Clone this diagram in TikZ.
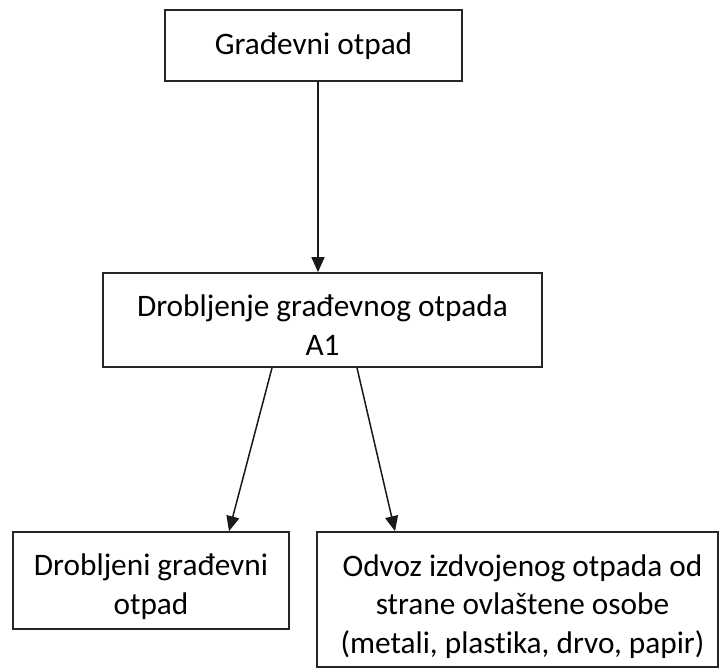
\documentclass[tikz,border=0pt]{standalone}
\usepackage{fontspec}
\setmainfont{Carlito}[Ligatures=NoCommon]
\usetikzlibrary{arrows.meta}
\begin{document}
\begin{tikzpicture}[x=1pt,y=-1pt,
  boxst/.style={draw=black!85, line width=1.7pt, inner sep=0pt, fill=white},
  textst/.style={align=center, inner sep=0pt, font=\fontsize{31.3}{38.5}\selectfont},
  arr/.style={draw=black!90, line width=1.5pt, -{Triangle[length=15pt,width=13pt]}}]
\useasboundingbox (0,0) rectangle (719,669);
\node[boxst, minimum width=297pt, minimum height=71pt,
  label={[textst, yshift=-1pt]center:Građevni otpad}] (b1) at (313.5,45.5) {};
\node[boxst, minimum width=439pt, minimum height=94pt,
  label={[textst, yshift=-5pt]center:{Drobljenje građevnog otpada\\A1}}] (b2) at (322.5,320) {};
\node[boxst, minimum width=276pt, minimum height=97pt,
  label={[textst, yshift=-6pt]center:{Drobljeni građevni\\otpad}}] (b3) at (151,580.5) {};
\node[boxst, minimum width=401pt, minimum height=135pt,
  label={[textst, yshift=-7pt, xshift=5pt]center:{Odvoz izdvojenog otpada od\\strane ovlaštene osobe\\(metali, plastika, drvo, papir)}}] (b4) at (517.5,599.5) {};
\draw[arr] ([xshift=4.5pt]b1.south) -- ([xshift=4.5pt]b1.south |- b2.north);
\draw[arr] ([xshift=-50.5pt]b2.south) -- ([xshift=78pt]b3.north);
\draw[arr] ([xshift=34.5pt]b2.south) -- ([xshift=-122.5pt]b4.north);
\end{tikzpicture}
\end{document}
